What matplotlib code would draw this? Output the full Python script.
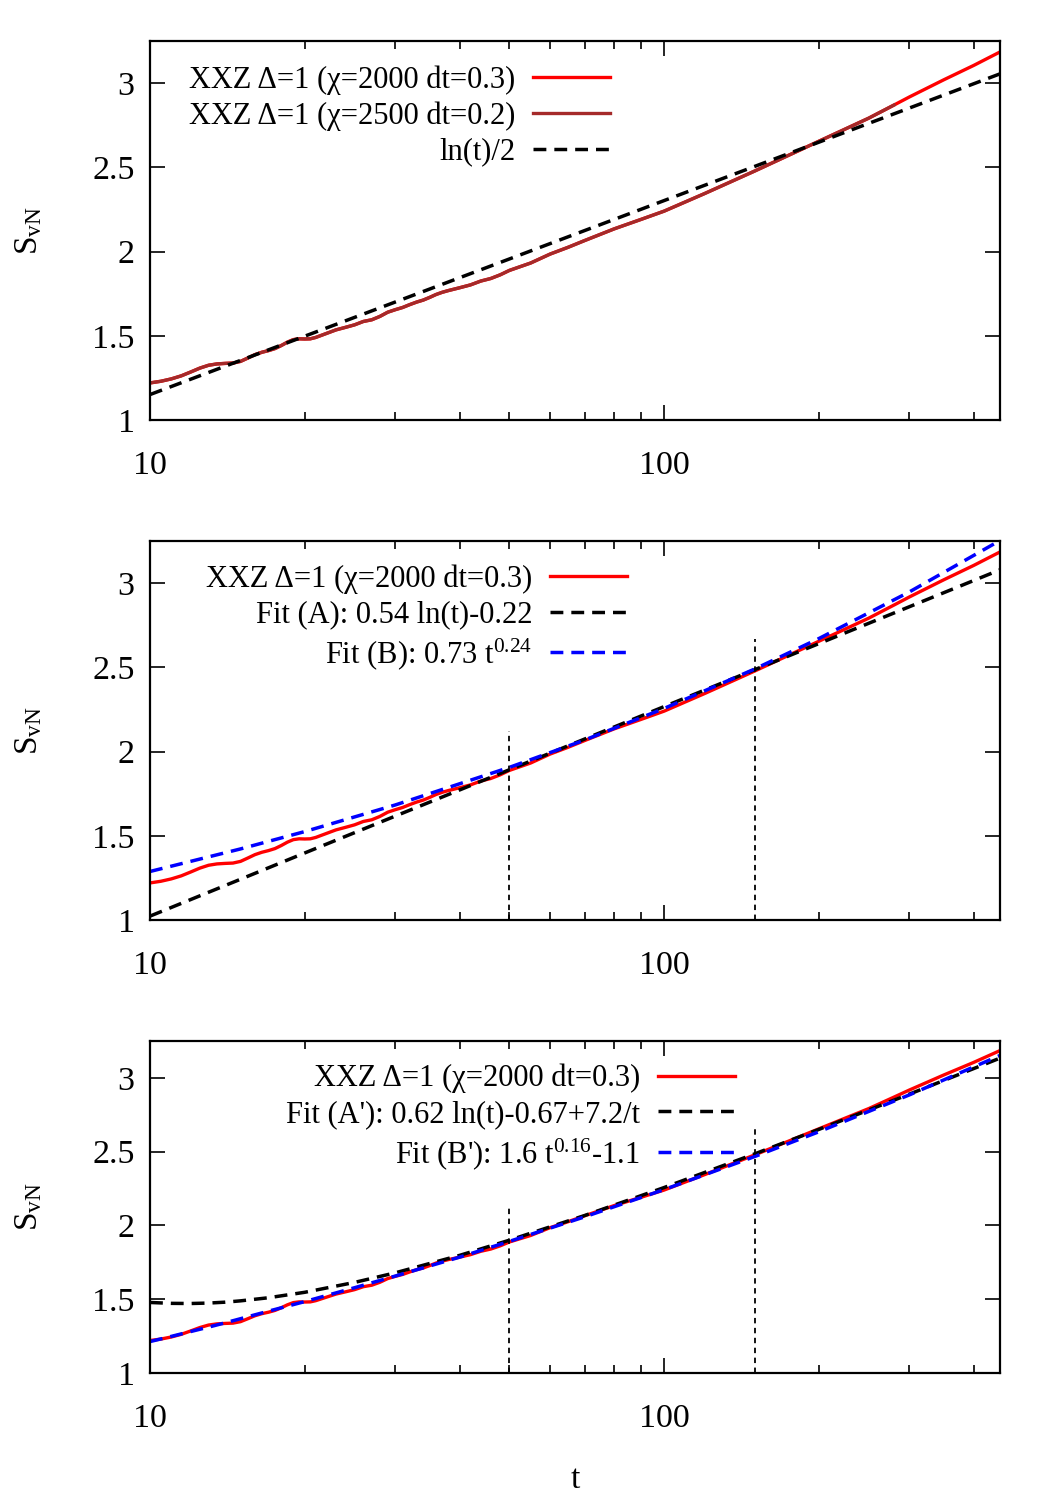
import matplotlib
matplotlib.use('Agg')
import matplotlib.pyplot as plt
from matplotlib.ticker import LogLocator, NullFormatter, FixedLocator, FixedFormatter

plt.rcParams['font.family'] = ['Liberation Serif', 'DejaVu Serif']
plt.rcParams['mathtext.default'] = 'regular'

# S_vN(t), XXZ Delta=1, chi=2000 dt=0.3
t_data = [10.0, 10.5, 11.0, 11.5, 12.0, 12.5, 13.0, 13.5, 14.0, 14.5, 15.0, 15.5,
          16.0, 16.5, 17.0, 17.5, 18.0, 18.5, 19.0, 19.5, 20.0, 20.5, 21.0, 22.0,
          23.0, 24.0, 25.0, 26.0, 27.0, 28.0, 29.0, 30.0, 31.0, 32.0, 33.0, 34.0,
          35.0, 36.0, 37.0, 38.0, 40.0, 42.0, 44.0, 46.0, 48.0, 50.0, 55.0, 60.0,
          65.0, 70.0, 80.0, 90.0, 100.0, 120.0, 150.0, 200.0, 250.0, 280.0, 300.0,
          350.0, 400.0, 450.0]
s_data = [1.220, 1.230, 1.244, 1.262, 1.285, 1.308, 1.325, 1.333, 1.336, 1.338, 1.348, 1.368,
          1.388, 1.402, 1.412, 1.424, 1.442, 1.462, 1.477, 1.482, 1.481, 1.482, 1.490, 1.513,
          1.535, 1.550, 1.565, 1.585, 1.595, 1.615, 1.640, 1.655, 1.668, 1.685, 1.700, 1.712,
          1.728, 1.745, 1.758, 1.768, 1.785, 1.802, 1.825, 1.840, 1.862, 1.888, 1.932, 1.985,
          2.025, 2.065, 2.135, 2.190, 2.240, 2.345, 2.478, 2.655, 2.792, 2.870, 2.918,
          3.020, 3.105, 3.185]
# chi=2500 dt=0.2 run lies on top of the chi=2000 one and stops here
t_end_2500 = 280

# reference ln(t)/2
t_ln = [10, 450]
s_ln = [1.151, 3.055]

# panel 2 fits
t_fit = [10, 15, 20, 30, 50, 70, 100, 150, 200, 300, 450]
fit_A = [1.023, 1.242, 1.398, 1.617, 1.892, 2.074, 2.267, 2.486, 2.641, 2.860, 3.079]
fit_B = [1.288, 1.422, 1.525, 1.683, 1.906, 2.068, 2.256, 2.490, 2.671, 2.948, 3.253]

# panel 3 fits
t_fit2 = [10, 11, 12, 13, 14, 15, 17, 20, 25, 30, 40, 50, 70, 100, 150, 200, 300, 450]
fit_A2 = [1.478, 1.472, 1.471, 1.474, 1.480, 1.489, 1.510, 1.547, 1.614, 1.679, 1.797,
          1.900, 2.067, 2.257, 2.485, 2.651, 2.890, 3.134]
fit_B2 = [1.213, 1.248, 1.281, 1.311, 1.340, 1.368, 1.419, 1.484, 1.578, 1.657, 1.785,
          1.892, 2.058, 2.243, 2.467, 2.635, 2.885, 3.152]

# fit windows
t_win = [50, 150]
win_top = [2.12, 2.67]

lab_red = 'XXZ Δ=1 (χ=2000 dt=0.3)'
lab_brown = 'XXZ Δ=1 (χ=2500 dt=0.2)'

RED = '#ff0000'
BROWN = '#a52a2a'
BLUE = '#0000ff'
DASH = (0, (3.7, 2.3))

fig = plt.figure(figsize=(10.5, 15), dpi=100)
W = 1050.0
H = 1500.0
boxes = [(41, 420), (541, 920), (1041, 1373)]
axes = [fig.add_axes([150 / W, 1 - b / H, 850 / W, (b - t) / H]) for t, b in boxes]

for ax in axes:
    ax.set_xscale('log')
    ax.set_xlim(10, 450)
    ax.set_ylim(1, 3.25)
    ax.xaxis.set_major_locator(FixedLocator([10, 100]))
    ax.xaxis.set_major_formatter(FixedFormatter(['10', '100']))
    ax.xaxis.set_minor_locator(LogLocator(base=10, subs=range(2, 10)))
    ax.xaxis.set_minor_formatter(NullFormatter())
    ax.set_yticks([1, 1.5, 2, 2.5, 3])
    ax.set_yticklabels(['1', '1.5', '2', '2.5', '3'])
    ax.tick_params(which='both', direction='in', top=True, right=True, width=1.2)
    ax.tick_params(which='major', length=10.5, labelsize=24.5)
    ax.tick_params(which='minor', length=5.5)
    ax.tick_params(axis='x', pad=22)
    ax.tick_params(axis='y', pad=11)
    for sp in ax.spines.values():
        sp.set_linewidth(1.6)
    ax.set_ylabel('S$_{vN}$', fontsize=24)
    ax.yaxis.set_label_coords(-0.125, 0.5)

# panel 1
ax = axes[0]
ax.plot(t_data, s_data, color=RED, lw=2.4, label=lab_red)
t_b = [t for t in t_data if t <= t_end_2500]
ax.plot(t_b, s_data[:len(t_b)], color=BROWN, lw=2.4, label=lab_brown)
ax.plot(t_ln, s_ln, color='black', lw=2.5, ls=DASH, label='ln(t)/2')

# panel 2
ax = axes[1]
ax.plot(t_data, s_data, color=RED, lw=2.4, label=lab_red)
ax.plot(t_fit, fit_A, color='black', lw=2.5, ls=DASH, label='Fit (A): 0.54 ln(t)-0.22')
ax.plot(t_fit, fit_B, color=BLUE, lw=2.5, ls=DASH, label='Fit (B): 0.73 t$^{0.24}$')
ax.vlines(t_win, 1, win_top, color='black', lw=1.3, linestyles=[(0, (3, 2.5))])

# panel 3
ax = axes[2]
ax.plot(t_data, s_data, color=RED, lw=2.4, label=lab_red)
ax.plot(t_fit2, fit_A2, color='black', lw=2.5, ls=DASH, label="Fit (A'): 0.62 ln(t)-0.67+7.2/t")
ax.plot(t_fit2, fit_B2, color=BLUE, lw=2.5, ls=DASH, label="Fit (B'): 1.6 t$^{0.16}$-1.1")
ax.vlines(t_win, 1, win_top, color='black', lw=1.3, linestyles=[(0, (3, 2.5))])
ax.set_xlabel('t', fontsize=24, labelpad=22)

legend_anchor = [(0.541, 0.936), (0.561, 0.939), (0.688, 0.931)]
for ax, anchor in zip(axes, legend_anchor):
    ax.legend(loc='upper right', bbox_to_anchor=anchor, frameon=False, markerfirst=False,
              fontsize=22, handlelength=2.5, handletextpad=0.6, labelspacing=0.22,
              borderpad=0, borderaxespad=0)

fig.savefig('out.png', dpi=100)
